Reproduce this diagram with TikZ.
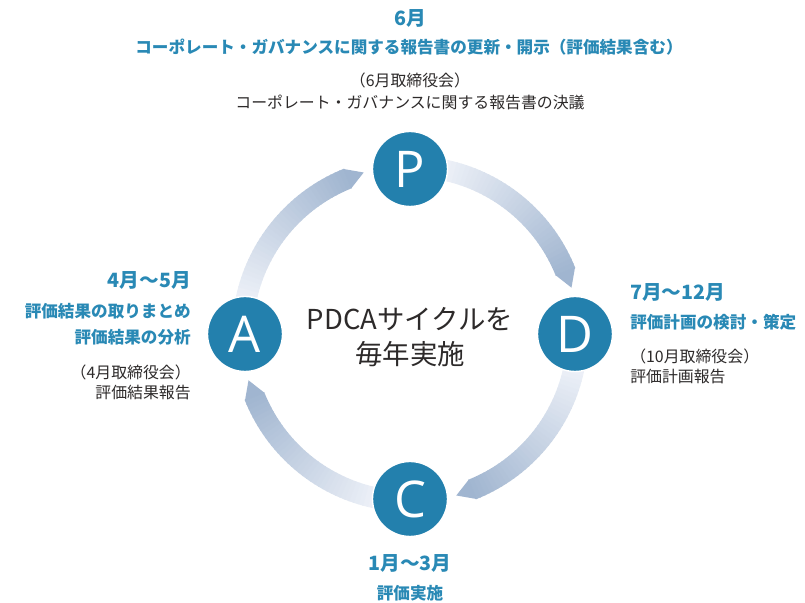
\documentclass[tikz,border=0pt]{standalone}
\usepackage{fontspec}
\setmainfont{Noto Sans CJK JP}
\newfontfamily\letterfont{Open Sans}
\definecolor{pdcablue}{RGB}{35,128,173}
\definecolor{textblue}{RGB}{41,137,181}
\definecolor{textdark}{RGB}{45,42,42}
\definecolor{arclight}{RGB}{244,246,251}
\definecolor{arcdark}{RGB}{160,181,208}

\tikzset{
  stage/.style={circle, fill=pdcablue, draw=white, line width=1pt, minimum size=1.875cm,
    inner sep=0pt, text=white, font=\letterfont\fontsize{36}{36}\selectfont},
  monthtxt/.style={inner sep=0pt, text=textblue, font=\bfseries\fontsize{14}{16}\selectfont},
  tasktxt/.style={inner sep=0pt, text=textblue, font=\bfseries\fontsize{11.8}{14}\selectfont},
  notetxt/.style={inner sep=0pt, text=textdark, font=\fontsize{11.3}{14}\selectfont},
  centertxt/.style={inner sep=0pt, text=textdark, align=center, font=\fontsize{19.5}{24.5}\selectfont}
}

\begin{document}
\begin{tikzpicture}[x=0.025cm, y=0.025cm]

% Background
\useasboundingbox (0,0) rectangle (805,603);
\fill[white] (0,0) rectangle (805,603);

% Ring
\coordinate (ring) at (410,269);
\begin{scope}[shift={(ring)}]
\foreach \s in {90,0,-90,-180} {
  \foreach \i in {0,...,39} {
    \pgfmathsetmacro\aa{\s-6-\i*1.55}
    \pgfmathsetmacro\ab{\aa-1.85}
    \pgfmathsetmacro\pct{\i*2.5}
    \fill[arcdark!\pct!arclight] (\aa:157) -- (\aa:178) -- (\ab:178) -- (\ab:157) -- cycle;
  }
  % arrow tip
  \fill[arcdark] (\s-68:178) -- (\s-74:168) -- (\s-68:157) -- cycle;
}
\end{scope}

% PDCA circles
\foreach \n/\x/\y in {P/410/434, D/575/269, C/410/104, A/245/269} {
  \node[stage] (\n) at (\x,\y) {\n};
}

% Center
\node[centertxt] (cycle) at (410,266) {PDCAサイクルを\\毎年実施};

% Plan
\node[monthtxt] (monthP) at (410,585) {6月};
\node[tasktxt] (taskP) at (409,556) {コーポレート・ガバナンスに関する報告書の更新・開示（評価結果含む）};
\node[notetxt] (meetP) at (410,523) {（6月取締役会）};
\node[notetxt] (noteP) at (410,501) {コーポレート・ガバナンスに関する報告書の決議};

% Do
\node[monthtxt, anchor=west] (monthD) at (630,311) {7月〜12月};
\node[tasktxt, anchor=west] (taskD) at (630,281) {評価計画の検討・策定};
\node[notetxt, anchor=west] (meetD) at (630,247) {（10月取締役会）};
\node[notetxt, anchor=west] (noteD) at (630,226) {評価計画報告};

% Check
\node[monthtxt] (monthC) at (410,40) {1月〜3月};
\node[tasktxt] (taskC) at (410,10) {評価実施};

% Act
\node[monthtxt, anchor=east] (monthA) at (191,323) {4月〜5月};
\node[tasktxt, anchor=east] (taskA1) at (191,292) {評価結果の取りまとめ};
\node[tasktxt, anchor=east] (taskA2) at (191,266) {評価結果の分析};
\node[notetxt, anchor=east] (meetA) at (191,231) {（4月取締役会）};
\node[notetxt, anchor=east] (noteA) at (191,210) {評価結果報告};

\end{tikzpicture}
\end{document}
